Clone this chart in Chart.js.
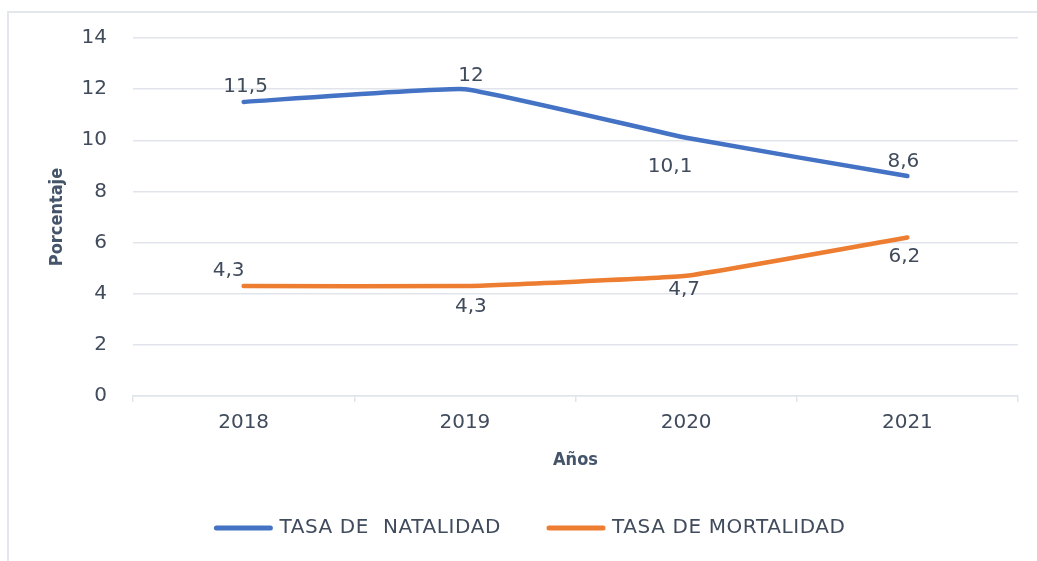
<!DOCTYPE html>
<html>
<head>
<meta charset="utf-8">
<script src="https://cdn.jsdelivr.net/npm/chart.js@4"></script>
<style>
  html, body { margin: 0; padding: 0; background: #fff; }
  #wrap { position: relative; width: 1037px; height: 561px; }
</style>
</head>
<body>
<div id="wrap"><canvas id="tasasChart"></canvas></div>
<script>
const years = ['2018', '2019', '2020', '2021'];
const natalidad = [11.5, 12, 10.1, 8.6];
const mortalidad = [4.3, 4.3, 4.7, 6.2];
const seriesNames = ['TASA DE  NATALIDAD', 'TASA DE MORTALIDAD'];

const textColor = '#404b5c';
const gridColor = '#e1e5eb';
const baseFont = "'DejaVu Sans', sans-serif";
const titleFont = "'DejaVu Sans Condensed', 'DejaVu Sans', sans-serif";

// value label placement around each point (dx, dy in px)
const natalidadLabelPos = [[2, -15], [6, -13], [-16, 29], [-4, -14]];
const mortalidadLabelPos = [[-15, -15], [6, 21], [-2, 14], [-3, 19]];

const fmt = v => String(v).replace('.', ',');

// outer frame + value labels + legend drawn on the canvas
const decorations = {
    id: 'decorations',
    beforeDraw(chart) {
        const ctx = chart.ctx;
        ctx.save();
        ctx.strokeStyle = '#e3e7ec';
        ctx.lineWidth = 2;
        ctx.beginPath();
        ctx.moveTo(8, chart.height);
        ctx.lineTo(8, 12);
        ctx.lineTo(chart.width, 12);
        ctx.stroke();
        ctx.restore();
    },
    afterDatasetsDraw(chart) {
        const ctx = chart.ctx;
        ctx.save();
        ctx.font = '20px ' + baseFont;
        ctx.fillStyle = textColor;
        ctx.textAlign = 'center';
        ctx.textBaseline = 'middle';
        chart.data.datasets.forEach((ds, i) => {
            const meta = chart.getDatasetMeta(i);
            meta.data.forEach((pt, j) => {
                const [dx, dy] = ds.labelPos[j];
                ctx.fillText(fmt(ds.data[j]), pt.x + dx, pt.y + dy);
            });
        });
        ctx.restore();
    },
    afterDraw(chart) {
        const ctx = chart.ctx;
        ctx.save();
        ctx.font = '20px ' + baseFont;
        if ('letterSpacing' in ctx) ctx.letterSpacing = '0.6px';
        const lineLen = 58, lineGap = 7, itemGap = 46, cy = 528;
        const items = chart.data.datasets.map(ds => ({
            text: ds.label, color: ds.borderColor, w: ctx.measureText(ds.label).width
        }));
        const total = items.reduce((s, it) => s + lineLen + lineGap + it.w, 0) + itemGap * (items.length - 1);
        let x = 530 - total / 2;
        items.forEach(it => {
            ctx.strokeStyle = it.color;
            ctx.lineWidth = 5;
            ctx.lineCap = 'round';
            ctx.beginPath();
            ctx.moveTo(x + 2, cy);
            ctx.lineTo(x + lineLen - 2, cy);
            ctx.stroke();
            ctx.fillStyle = textColor;
            ctx.textAlign = 'left';
            ctx.textBaseline = 'middle';
            ctx.fillText(it.text, x + lineLen + lineGap, cy);
            x += lineLen + lineGap + it.w + itemGap;
        });
        ctx.restore();
    }
};

new Chart(document.getElementById('tasasChart'), {
    type: 'line',
    data: {
        labels: years,
        datasets: [{
            label: seriesNames[0],
            data: natalidad,
            borderColor: '#4472c4',
            labelPos: natalidadLabelPos
        }, {
            label: seriesNames[1],
            data: mortalidad,
            borderColor: '#ed7d31',
            labelPos: mortalidadLabelPos
        }]
    },
    options: {
        responsive: true,
        maintainAspectRatio: false,
        animation: false,
        layout: { padding: { top: 38, right: 19, bottom: 0, left: 0 } },
        elements: {
            line: { borderWidth: 4.5, tension: 0.1, borderCapStyle: 'round', fill: false },
            point: { radius: 0, hoverRadius: 0 }
        },
        plugins: {
            legend: { display: false },
            tooltip: { enabled: false }
        },
        scales: {
            x: {
                offset: true,
                grid: {
                    offset: true,
                    drawOnChartArea: false,
                    drawTicks: true,
                    tickLength: 6,
                    color: gridColor,
                    lineWidth: 1.5
                },
                border: { display: true, color: gridColor, width: 1.5 },
                ticks: { color: textColor, font: { family: baseFont, size: 20 }, padding: 9 },
                title: {
                    display: true,
                    text: 'Años',
                    color: '#44546a',
                    font: { family: titleFont, size: 18, weight: 'bold' },
                    padding: { top: 0, bottom: 90 }
                },
                afterFit(scale) { scale.height = 165; }
            },
            y: {
                min: 0,
                max: 14,
                ticks: { stepSize: 2, color: textColor, font: { family: baseFont, size: 20 }, padding: 26 },
                grid: { color: gridColor, lineWidth: 1.5, drawTicks: false },
                border: { display: false },
                title: {
                    display: true,
                    text: 'Porcentaje',
                    color: '#44546a',
                    font: { family: titleFont, size: 18, weight: 'bold' },
                    padding: { top: 47, bottom: 0 }
                },
                afterFit(scale) { scale.width = 133; }
            }
        }
    },
    plugins: [decorations]
});
</script>
</body>
</html>
